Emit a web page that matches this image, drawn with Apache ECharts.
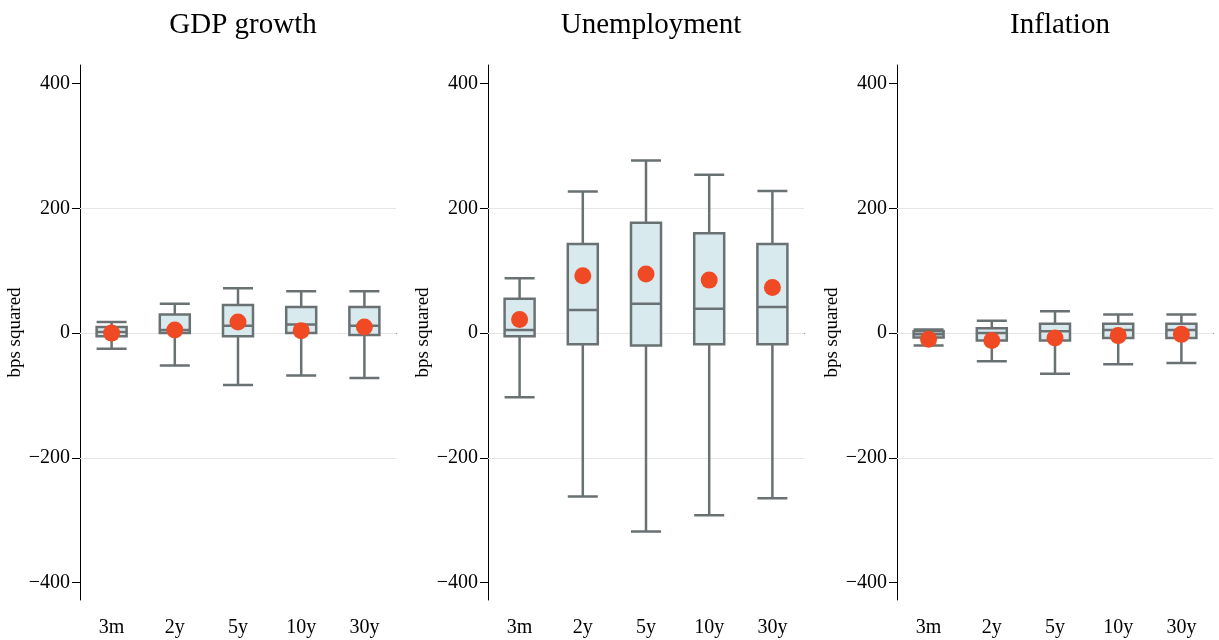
<!DOCTYPE html>
<html><head><meta charset="utf-8">
<script src="https://cdn.jsdelivr.net/npm/echarts@6/dist/echarts.min.js"></script>
<style>html,body{margin:0;background:#fff}#c{width:1219px;height:640px}</style>
</head><body><div id="c"></div>
<script>
var maturities = ['3m', '2y', '5y', '10y', '30y'];
var titles = ['GDP growth', 'Unemployment', 'Inflation'];
var yTicks = [-400, -200, 0, 200, 400];
var gridLines = [-200, 0, 200];
// [min, q1, median, q3, max]
var gdpBox = [[-25, -5, 2, 10, 18], [-52, 0, 5, 30, 47], [-83, -5, 12, 45, 72], [-68, 0, 14, 42, 67], [-72, -3, 12, 42, 67]];
var gdpMean = [0, 5, 18, 4, 10];
var unempBox = [[-103, -5, 5, 55, 88], [-262, -18, 37, 143, 227], [-318, -20, 47, 177, 277], [-292, -18, 39, 160, 254], [-265, -18, 42, 143, 228]];
var unempMean = [22, 92, 95, 85, 73];
var inflBox = [[-20, -7, -2, 3, 6], [-45, -12, 0, 8, 20], [-65, -12, 3, 15, 35], [-50, -8, 5, 15, 30], [-48, -8, 5, 15, 30]];
var inflMean = [-10, -12, -8, -4, -2];

var boxes = [gdpBox, unempBox, inflBox];
var means = [gdpMean, unempMean, inflMean];
var lefts = [80, 488, 897];
var font = 'Liberation Serif';

var option = {
    animation: false,
    textStyle: { fontFamily: font },
    title: [], grid: [], xAxis: [], yAxis: [], series: []
};
for (var i = 0; i < 3; i++) {
    option.title.push({
        text: titles[i], left: lefts[i] + 158, top: 6, textAlign: 'center',
        textStyle: { fontFamily: font, fontSize: 29, fontWeight: 'normal', color: '#000' }
    });
    option.grid.push({ left: lefts[i], width: 316, top: 65, height: 535 });
    option.xAxis.push({
        type: 'category', gridIndex: i, data: maturities,
        axisLine: { lineStyle: { color: '#000', width: 1 } },
        axisTick: { alignWithLabel: true, length: 6, lineStyle: { color: '#000' } },
        axisLabel: { fontFamily: font, fontSize: 20, color: '#000', margin: 18 }
    });
    option.yAxis.push({
        type: 'value', gridIndex: i, min: -428, max: 430,
        name: 'bps squared', nameLocation: 'middle', nameGap: 54, nameRotate: 90,
        nameTextStyle: { fontFamily: font, fontSize: 19, color: '#000' },
        axisLine: { show: true, lineStyle: { color: '#000', width: 1 } },
        axisTick: { show: true, length: 8, customValues: yTicks, lineStyle: { color: '#000' } },
        axisLabel: {
            fontFamily: font, fontSize: 20, color: '#000', customValues: yTicks, margin: 10,
            formatter: function (v) { return v < 0 ? '\u2212' + (-v) : String(v); }
        },
        splitLine: { show: false }
    });
    option.series.push({
        type: 'boxplot', xAxisIndex: i, yAxisIndex: i, data: boxes[i],
        boxWidth: [30, 30],
        itemStyle: { color: '#d9eaee', borderColor: '#6a7173', borderWidth: 2.5 },
        z: 3
    });
    option.series.push({
        type: 'scatter', xAxisIndex: i, yAxisIndex: i, data: means[i],
        symbolSize: 17, itemStyle: { color: '#ef4a23', opacity: 1 }, z: 5,
        markLine: {
            silent: true, symbol: 'none', label: { show: false },
            lineStyle: { color: '#e6e6e6', type: 'solid', width: 1 },
            data: gridLines.map(function (v) { return { yAxis: v }; }),
            z: 1
        }
    });
}
echarts.init(document.getElementById('c')).setOption(option);
</script></body></html>
